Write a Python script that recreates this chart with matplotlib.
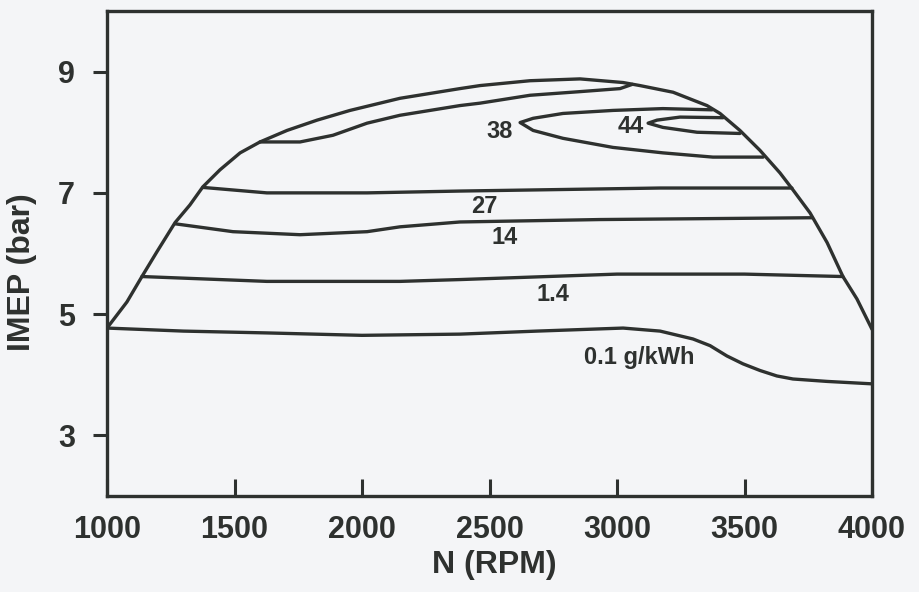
import matplotlib
matplotlib.use("Agg")
import matplotlib.pyplot as plt

# ---------------------------------------------------------
# Engine operating map: NOx contours (g/kWh) over speed / load
# ---------------------------------------------------------

# outer boundary of the map (full-load line)
boundary_rpm = [1000, 1078, 1137, 1196, 1267, 1325, 1376, 1443, 1522, 1600, 1706,
                1824, 1953, 2149, 2384, 2463, 2659, 2855, 3024, 3090, 3220, 3353,
                3404, 3482, 3561, 3639, 3690, 3757, 3824, 3886, 3941, 4000]
boundary_imep = [4.77, 5.20, 5.62, 6.03, 6.51, 6.80, 7.10, 7.38, 7.66, 7.84, 8.03,
                 8.20, 8.36, 8.56, 8.72, 8.77, 8.85, 8.88, 8.82, 8.77, 8.66, 8.44,
                 8.31, 8.03, 7.70, 7.33, 7.05, 6.67, 6.18, 5.62, 5.25, 4.75]

# contour lines
c01_rpm = [1000, 1300, 1627, 2000, 2384, 2686, 3024, 3169, 3298, 3365, 3431, 3494,
           3561, 3627, 3690, 3824, 4000]
c01_imep = [4.77, 4.72, 4.69, 4.65, 4.67, 4.72, 4.77, 4.72, 4.59, 4.48, 4.31, 4.18,
            4.07, 3.98, 3.93, 3.89, 3.85]

c14_rpm = [1137, 1627, 2149, 2384, 3000, 3500, 3886]
c14_imep = [5.62, 5.54, 5.54, 5.57, 5.66, 5.66, 5.62]

c140_rpm = [1267, 1494, 1757, 2020, 2149, 2384, 2933, 3765]
c140_imep = [6.49, 6.36, 6.31, 6.36, 6.44, 6.52, 6.56, 6.59]

c27_rpm = [1376, 1627, 2020, 2384, 3169, 3686]
c27_imep = [7.09, 7.00, 7.00, 7.03, 7.08, 7.08]

c38a_rpm = [1600, 1757, 1886, 2020, 2149, 2384, 2463, 2659, 2855, 3012, 3060]
c38a_imep = [7.84, 7.84, 7.95, 8.15, 8.28, 8.44, 8.48, 8.61, 8.67, 8.72, 8.79]

c38b_rpm = [3373, 3180, 2984, 2788, 2671, 2620, 2671, 2788, 2984, 3180, 3376, 3573]
c38b_imep = [8.37, 8.39, 8.36, 8.31, 8.23, 8.16, 8.03, 7.90, 7.75, 7.66, 7.59, 7.59]

c44_rpm = [3416, 3247, 3157, 3122, 3180, 3314, 3482]
c44_imep = [8.24, 8.25, 8.20, 8.15, 8.08, 8.00, 7.98]

contour_lines = [
    (c01_rpm, c01_imep), (c14_rpm, c14_imep), (c140_rpm, c140_imep),
    (c27_rpm, c27_imep), (c38a_rpm, c38a_imep), (c38b_rpm, c38b_imep),
    (c44_rpm, c44_imep),
]

label_texts = ["0.1 g/kWh", "1.4", "14", "27", "38", "44"]
label_rpm = [3086, 2749, 2561, 2478, 2541, 3055]
label_imep = [4.28, 5.33, 6.26, 6.77, 8.02, 8.10]

x_ticks = [1000, 1500, 2000, 2500, 3000, 3500, 4000]
y_ticks = [3, 5, 7, 9]

INK = "#2e312f"
BG = "#f4f5f7"
LW = 2.4

plt.rcParams["font.family"] = ["Liberation Sans", "DejaVu Sans"]
plt.rcParams["font.weight"] = "bold"

fig = plt.figure(figsize=(9.2, 5.92), dpi=100, facecolor=BG)
ax = fig.add_axes([107 / 920, 96 / 592, 765 / 920, 485 / 592], facecolor=BG)

ax.plot(boundary_rpm, boundary_imep, color=INK, lw=LW, solid_joinstyle="round",
        solid_capstyle="round")
for xs, ys in contour_lines:
    ax.plot(xs, ys, color=INK, lw=LW, solid_joinstyle="round", solid_capstyle="round")

for txt, lx, ly in zip(label_texts, label_rpm, label_imep):
    ax.text(lx, ly, txt, fontsize=17, fontweight="bold", color=INK,
            ha="center", va="center")

ax.set_xlim(1000, 4000)
ax.set_ylim(2, 10)
ax.set_xticks(x_ticks)
ax.set_yticks(y_ticks)
ax.tick_params(axis="x", direction="in", length=12, width=2.2, pad=14,
               labelsize=22, colors=INK)
ax.tick_params(axis="y", direction="out", length=10, width=2.2, pad=13,
               labelsize=22, colors=INK)
for lab in ax.get_xticklabels() + ax.get_yticklabels():
    lab.set_fontweight("bold")
for sp in ax.spines.values():
    sp.set_linewidth(2.4)
    sp.set_color(INK)

fig.text(494 / 920, 1 - 565 / 592, "N (RPM)", fontsize=23, fontweight="bold",
         color=INK, ha="center", va="center")
fig.text(22 / 920, 1 - 272 / 592, "IMEP (bar)", fontsize=23, fontweight="bold",
         color=INK, ha="center", va="center", rotation=90)

fig.savefig("out.png", dpi=100, facecolor=BG)
